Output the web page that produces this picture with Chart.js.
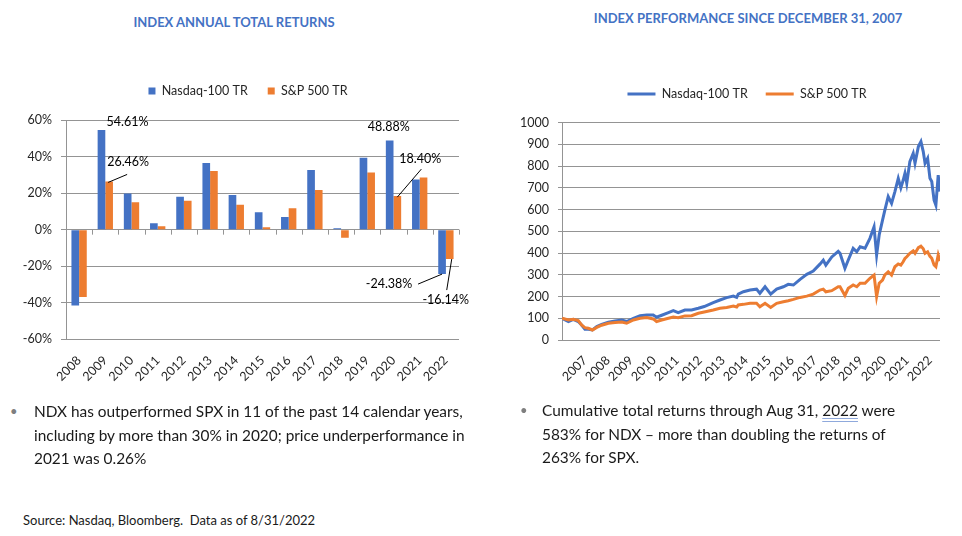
<!DOCTYPE html>
<html>
<head>
<meta charset="utf-8">
<script src="https://cdn.jsdelivr.net/npm/chart.js@4.4.1/dist/chart.umd.min.js"></script>
<style>
  html, body { margin: 0; padding: 0; background: #fff; }
  #stage { position: relative; width: 962px; height: 536px; overflow: hidden; background: #fff; font-family: Lato, "Open Sans", sans-serif; color: #1a1a1a; }
  .abs { position: absolute; white-space: nowrap; }
  .title { color: #4472C4; font-weight: bold; font-size: 13px; transform: translate(-50%, -50%); }
  .bullet-text { font-size: 15.4px; line-height: 23.5px; }
  .bullet { font-size: 13px; color: #7f7f7f; line-height: 23.5px; }
  .source { font-size: 13px; line-height: 16px; }
  .spell { text-decoration: underline double #8fa9dc; text-underline-offset: 2px; }
  canvas { position: absolute; }
</style>
</head>
<body>
<div id="stage">
  <div class="abs title" style="left:234px; top:22px;">INDEX ANNUAL TOTAL RETURNS</div>
  <div class="abs title" style="left:748px; top:18px;">INDEX PERFORMANCE SINCE DECEMBER 31, 2007</div>

  <div style="position:absolute; left:0; top:0; width:480px; height:400px;"><canvas id="barChart" width="480" height="400"></canvas></div>
  <div style="position:absolute; left:500px; top:0; width:462px; height:400px;"><canvas id="lineChart" width="462" height="400"></canvas></div>

  <div class="abs bullet" style="left:10px; top:400px;">•</div>
  <div class="abs bullet-text" style="left:34px; top:400px;">NDX has outperformed SPX in 11 of the past 14 calendar years,<br>including by more than 30% in 2020; price underperformance in<br>2021 was 0.26%</div>

  <div class="abs bullet" style="left:520px; top:399px;">•</div>
  <div class="abs bullet-text" style="left:542px; top:399px;">Cumulative total returns through Aug 31, <span class="spell">2022</span> were<br>583% for NDX – more than doubling the returns of<br>263% for SPX.</div>

  <div class="abs source" style="left:23px; top:512px;">Source: Nasdaq, Bloomberg.&nbsp; Data as of 8/31/2022</div>
</div>

<script>
// ---------------- DATA ----------------
const barYears = ['2008','2009','2010','2011','2012','2013','2014','2015','2016','2017','2018','2019','2020','2021','2022'];
const ndxAnnual = [-41.6, 54.61, 19.9, 3.5, 18.0, 36.6, 19.0, 9.6, 6.9, 32.7, 0.7, 39.4, 48.88, 27.5, -24.38];
const spxAnnual = [-37.0, 26.46, 15.0, 1.9, 15.9, 32.2, 13.6, 1.3, 11.8, 21.7, -4.5, 31.3, 18.40, 28.6, -16.14];
const barTickValues = [-60, -40, -20, 0, 20, 40, 60];

const perfYears = [2008.00, 2008.25, 2008.44, 2008.63, 2008.76, 2008.89, 2009.02, 2009.18, 2009.35, 2009.54,
  2009.80, 2010.06, 2010.32, 2010.51, 2010.77, 2011.03, 2011.29, 2011.54, 2011.67, 2011.87,
  2012.13, 2012.32, 2012.51, 2012.77, 2013.03, 2013.29, 2013.52, 2013.87, 2014.13, 2014.39,
  2014.65, 2014.78, 2014.84, 2015.04, 2015.30, 2015.55, 2015.68, 2015.88, 2016.10, 2016.33,
  2016.59, 2016.78, 2016.98, 2017.24, 2017.50, 2017.75, 2018.01, 2018.14, 2018.24, 2018.47,
  2018.72, 2018.79, 2018.98, 2019.11, 2019.30, 2019.44, 2019.57, 2019.76, 2019.95,
  2020.11, 2020.21, 2020.31, 2020.44, 2020.53, 2020.66, 2020.79, 2020.92, 2021.05, 2021.15,
  2021.24, 2021.31, 2021.38, 2021.50, 2021.63, 2021.70, 2021.83, 2021.93, 2022.02, 2022.09,
  2022.19, 2022.28, 2022.35, 2022.44, 2022.51, 2022.60, 2022.67];
const ndxLevels = [100, 85, 95, 85, 69, 49, 49, 46, 62, 72,
  82, 88, 92, 85, 100, 112, 115, 115, 105, 114,
  126, 135, 126, 138, 138, 146, 154, 172, 184, 195,
  202, 196, 211, 222, 230, 234, 215, 245, 211, 234,
  245, 256, 253, 279, 302, 317, 349, 367, 344, 382,
  408, 399, 330, 368, 422, 406, 429, 422, 468,
  521, 391, 483, 552, 598, 660, 629, 683, 744, 700,
  735, 767, 721, 821, 859, 813, 890, 913, 867, 813,
  836, 744, 729, 644, 621, 759, 683];
const spxLevels = [100, 92, 95, 89, 69, 57, 54, 46, 58, 68,
  77, 80, 83, 77, 92, 100, 103, 97, 85, 92,
  100, 106, 103, 111, 112, 123, 129, 138, 146, 150,
  156, 152, 161, 164, 169, 169, 153, 169, 150, 169,
  176, 181, 187, 196, 202, 211, 230, 234, 222, 227,
  245, 245, 205, 238, 253, 245, 261, 261, 284,
  299, 200, 261, 276, 300, 314, 299, 337, 350, 345,
  360, 375, 383, 399, 410, 399, 425, 432, 420, 399,
  406, 385, 376, 345, 337, 391, 363];
const perfTickLabels = ['2007','2008','2009','2010','2011','2012','2013','2014','2015','2016','2017','2018','2019','2020','2021','2022'];
const seriesNames = ['Nasdaq-100 TR', 'S&P 500 TR'];

// ---------------- STYLE / LAYOUT ----------------
const BLUE = '#4472C4', ORANGE = '#ED7D31', GRID = '#949494', TXT = '#262626';
const FONT = { family: 'Lato, "Open Sans", sans-serif', size: 12.5 };
Chart.defaults.font.family = FONT.family;
Chart.defaults.font.size = FONT.size;
Chart.defaults.color = TXT;

// adds vertical room below the legend and shifts it horizontally
function legendLayout(extra, shift) {
  return {
    id: 'legendLayout',
    beforeUpdate(chart) {
      const lg = chart.legend;
      if (lg && !lg._spaced) {
        const fit = lg.fit;
        lg.fit = function () { fit.call(this); this.height += extra; };
        lg._spaced = true;
      }
    },
    afterLayout(chart) {
      const lg = chart.legend;
      if (lg) { lg.left += shift; lg.right += shift; }
    }
  };
}

// labels with leader lines for selected bars: [datasetIndex, index, dx, dy, leader]
const barCallouts = [
  [0, 1, 26, -8, null],
  [1, 1, 19, -19, [-1, 1, 18, -7]],
  [0, 12, -1, -14, null],
  [1, 12, 23, -37, [0, 1, 24, -27]],
  [0, 14, -53, 10, [-24, 10, 0, 0]],
  [1, 14, -4, 41, [2, 0, -3, 31]]
];

const calloutPlugin = {
  id: 'callouts',
  afterDatasetsDraw(chart) {
    const ctx = chart.ctx;
    ctx.save();
    ctx.font = `${FONT.size}px ${FONT.family}`;
    ctx.fillStyle = '#000';
    ctx.strokeStyle = '#000';
    ctx.lineWidth = 1;
    ctx.textAlign = 'center';
    ctx.textBaseline = 'middle';
    barCallouts.forEach(([ds, i, dx, dy, leader]) => {
      const el = chart.getDatasetMeta(ds).data[i];
      const v = chart.data.datasets[ds].data[i];
      ctx.fillText(v.toFixed(2) + '%', el.x + dx, el.y + dy);
      if (leader) {
        ctx.beginPath();
        ctx.moveTo(el.x + leader[0], el.y + leader[1]);
        ctx.lineTo(el.x + leader[2], el.y + leader[3]);
        ctx.stroke();
      }
    });
    ctx.restore();
  }
};

const zeroTicksPlugin = {
  id: 'zeroTicks',
  beforeDatasetsDraw(chart) {
    const { ctx, scales: { x, y } } = chart;
    const y0 = y.getPixelForValue(0);
    const n = chart.data.labels.length;
    const w = (x.right - x.left) / n;
    ctx.save();
    ctx.strokeStyle = GRID;
    ctx.lineWidth = 1;
    ctx.beginPath();
    for (let i = 1; i <= n; i++) {
      const px = Math.round(x.left + i * w) + 0.5;
      ctx.moveTo(px, y0);
      ctx.lineTo(px, y0 + 5);
    }
    ctx.stroke();
    ctx.restore();
  }
};

function draw() {
  // ---------- Bar chart ----------
  new Chart(document.getElementById('barChart'), {
    type: 'bar',
    data: {
      labels: barYears,
      datasets: [
        { label: seriesNames[0], data: ndxAnnual, backgroundColor: BLUE },
        { label: seriesNames[1], data: spxAnnual, backgroundColor: ORANGE }
      ]
    },
    options: {
      responsive: false,
      animation: false,
      events: [],
      datasets: { bar: { categoryPercentage: 0.585, barPercentage: 1.0 } },
      layout: { padding: { top: 64.75, left: 0, right: 21, bottom: 0 } },
      plugins: {
        legend: {
          position: 'top',
          labels: { boxWidth: 7, boxHeight: 7, padding: 20, color: TXT, font: FONT }
        },
        tooltip: { enabled: false }
      },
      scales: {
        x: {
          grid: { display: false },
          border: { display: false },
          ticks: { minRotation: 45, maxRotation: 45, autoSkip: false, padding: 6, color: TXT, font: FONT },
          afterFit(s) { s.height = 61; }
        },
        y: {
          min: -60, max: 60,
          afterBuildTicks(s) { s.ticks = barTickValues.map(v => ({ value: v })); },
          grid: { color: GRID, lineWidth: 1, drawTicks: true, tickLength: 5, tickColor: GRID },
          border: { display: true, color: GRID, width: 1 },
          ticks: { padding: 9, color: TXT, font: FONT, callback: v => v + '%' },
          afterFit(s) { s.width = 66; }
        }
      }
    },
    plugins: [legendLayout(13.05, 18.5), zeroTicksPlugin, calloutPlugin]
  });

  // ---------- Line chart ----------
  const TICK_START = 2008.8925, TICK_STEP = 0.8925;
  new Chart(document.getElementById('lineChart'), {
    type: 'line',
    data: {
      datasets: [
        { label: seriesNames[0], data: perfYears.map((x, i) => ({ x, y: ndxLevels[i] })), borderColor: BLUE, backgroundColor: BLUE, borderWidth: 3, pointRadius: 0, tension: 0, order: 1 },
        { label: seriesNames[1], data: perfYears.map((x, i) => ({ x, y: spxLevels[i] })), borderColor: ORANGE, backgroundColor: ORANGE, borderWidth: 3, pointRadius: 0, tension: 0, order: 0 }
      ]
    },
    options: {
      responsive: false,
      animation: false,
      events: [],
      layout: { padding: { top: 69.75, left: 0, right: 22, bottom: 0 } },
      plugins: {
        legend: {
          position: 'top',
          labels: { usePointStyle: true, pointStyle: 'line', pointStyleWidth: 28, boxHeight: 12, padding: 18, color: TXT, font: FONT,
                    sort: (a, b) => a.datasetIndex - b.datasetIndex }
        },
        tooltip: { enabled: false }
      },
      scales: {
        x: {
          type: 'linear',
          min: perfYears[0], max: perfYears[perfYears.length - 1],
          afterBuildTicks(s) { s.ticks = perfTickLabels.map((_, k) => ({ value: TICK_START + k * TICK_STEP })); },
          grid: { display: false },
          border: { display: false },
          ticks: { minRotation: 45, maxRotation: 45, autoSkip: false, padding: 5, color: TXT, font: FONT,
                   callback: (v, i) => perfTickLabels[i] },
          afterFit(s) { s.height = 60; }
        },
        y: {
          min: 0, max: 1000,
          ticks: { stepSize: 100, padding: 9, color: TXT, font: FONT, callback: v => String(v) },
          grid: { color: GRID, lineWidth: 1, drawTicks: true, tickLength: 4, tickColor: GRID },
          border: { display: true, color: GRID, width: 1 },
          afterFit(s) { s.width = 62; }
        }
      }
    },
    plugins: [legendLayout(12.45, 27)]
  });
}

if (document.fonts && document.fonts.load) {
  Promise.all([document.fonts.load('12.5px Lato'), document.fonts.load('bold 13px Lato')]).then(draw, draw);
} else {
  draw();
}
</script>
</body>
</html>
